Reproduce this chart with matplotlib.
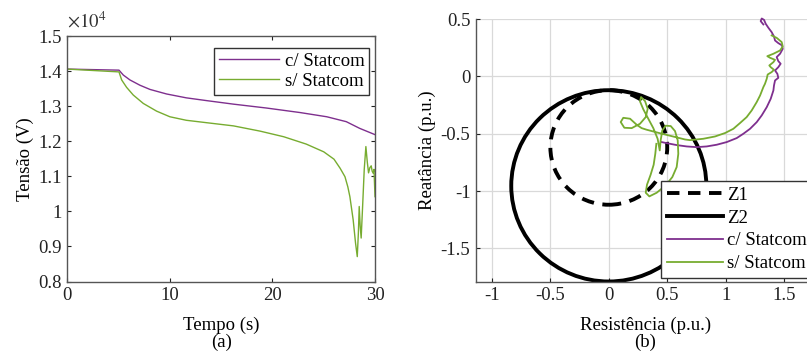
import numpy as np
import matplotlib
matplotlib.use("Agg")
import matplotlib.pyplot as plt
from matplotlib.patches import Circle
from matplotlib.lines import Line2D
from matplotlib.ticker import FuncFormatter

plt.rcParams["font.family"] = ["Liberation Serif", "DejaVu Serif"]
plt.rcParams["mathtext.fontset"] = "stix"

PURPLE = "#7E2F8E"
GREEN  = "#77AC30"

# ---- (a) voltage vs time ----
t_com = [0, 0, 0, 0, 5.04, 5.46, 6.11, 7.08, 8.06, 9.68, 11.6, 13.6, 16.2,
         19.4, 22.7, 25.3, 27.2, 28.5, 30]
v_com = [14060, 13890, 14130, 14060, 14030, 13890, 13750, 13600, 13480,
         13350, 13240, 13160, 13060, 12950, 12820, 12700, 12560, 12370, 12190]

t_sem = [0, 5.04, 5.3, 5.78, 6.43, 7.41, 8.71, 10.0, 11.6, 13.6, 16.2, 18.8,
         21.1, 23.3, 25.0, 26.0, 26.6, 27.07, 27.35, 27.55, 27.87, 28.1, 28.27,
         28.38, 28.46, 28.55, 28.65, 28.8, 28.95, 29.11, 29.25, 29.37, 29.5,
         29.63, 29.72, 29.82, 29.9, 30.0]
v_sem = [14060, 13980, 13750, 13540, 13320, 13080, 12860, 12700, 12600,
         12530, 12440, 12290, 12130, 11920, 11700, 11490, 11230, 10990, 10700,
         10420, 9760, 9100, 8710, 9400, 10140, 9600, 9240, 10200, 11200,
         11850, 11400, 11100, 11250, 11300, 11150, 11090, 11200, 10420]

# ---- (b) impedance plane ----
z1_center = (0.0, -0.62)
z1_radius = 0.50
z2_center = (0.0, -0.955)
z2_radius = 0.835

r_com = [1.323, 1.300, 1.309, 1.329, 1.343, 1.366, 1.394, 1.414, 1.423,
         1.451, 1.483, 1.489, 1.466, 1.437, 1.451, 1.471, 1.451, 1.423, 1.443,
         1.451, 1.423, 1.414, 1.409, 1.386, 1.352, 1.309, 1.266, 1.209, 1.152,
         1.095, 1.009, 0.924, 0.838, 0.752, 0.667, 0.581, 0.495, 0.453]
x_com = [0.454, 0.483, 0.506, 0.494, 0.460, 0.425, 0.387, 0.349, 0.314,
         0.291, 0.271, 0.241, 0.198, 0.169, 0.134, 0.111, 0.081, 0.052, 0.023,
         -0.012, -0.035, -0.079, -0.122, -0.195, -0.268, -0.340, -0.399,
         -0.457, -0.500, -0.538, -0.573, -0.596, -0.611, -0.617, -0.611,
         -0.599, -0.582, -0.573]

r_sem = [1.394, 1.437, 1.480, 1.489, 1.466, 1.409, 1.357, 1.380, 1.423,
         1.409, 1.374, 1.386, 1.414, 1.394, 1.360, 1.352, 1.337, 1.323, 1.295,
         1.266, 1.223, 1.180, 1.123, 1.066, 0.995, 0.909, 0.809, 0.695,
         0.652, 0.538, 0.424, 0.324, 0.281, 0.239, 0.182, 0.124, 0.102, 0.133,
         0.196, 0.267, 0.316, 0.333, 0.310, 0.276, 0.267, 0.296, 0.338, 0.381,
         0.418, 0.436, 0.444, 0.458, 0.487, 0.530, 0.567, 0.590, 0.595, 0.581,
         0.544, 0.487, 0.410, 0.347, 0.316, 0.327, 0.358, 0.384, 0.398, 0.407]
x_sem = [0.358, 0.337, 0.300, 0.262, 0.227, 0.198, 0.177, 0.163, 0.145,
         0.125, 0.096, 0.081, 0.058, 0.038, 0.017, -0.020, -0.064, -0.093,
         -0.166, -0.224, -0.297, -0.355, -0.407, -0.457, -0.494, -0.524,
         -0.544, -0.556,
         -0.550, -0.521, -0.492, -0.465, -0.451, -0.422, -0.369, -0.361,
         -0.398, -0.448, -0.451, -0.413, -0.355, -0.282, -0.215, -0.180,
         -0.218, -0.288, -0.369, -0.451, -0.544, -0.646, -0.558, -0.471,
         -0.430, -0.433, -0.477, -0.558, -0.675, -0.791, -0.878, -0.951,
         -1.015, -1.047, -1.015, -0.945, -0.858, -0.771, -0.675, -0.588]

fig = plt.figure(figsize=(8.07, 3.51), dpi=100)

SPINE = "#555555"
FS = 13.5

# Panel (a)
ax1 = fig.add_axes([0.0834, 0.198, 0.3813, 0.699])
ax1.plot(t_com, v_com, color=PURPLE, lw=1.0, label="c/ Statcom")
ax1.plot(t_sem, v_sem, color=GREEN, lw=1.0, label="s/ Statcom")
ax1.set_xlim(0, 30)
ax1.set_ylim(8000, 15000)
ax1.set_xticks([0, 10, 20, 30])
ax1.set_yticks(np.arange(8000, 15001, 1000))
ax1.yaxis.set_major_formatter(FuncFormatter(lambda v, p: f"{v/1e4:g}"))
ax1.text(0.0, 1.02, r"$\times10^4$", transform=ax1.transAxes, fontsize=FS,
         ha="left", va="bottom", color="#333333")
ax1.set_xlabel("Tempo (s)\n(a)", fontsize=FS, labelpad=9, linespacing=1.0)
ax1.set_ylabel("Tensão (V)", fontsize=FS, labelpad=3)
leg1 = ax1.legend(loc="upper right", bbox_to_anchor=(0.9805, 0.951),
                  fontsize=FS, handlelength=3.2, fancybox=False, framealpha=1,
                  edgecolor="#333333", borderaxespad=0, borderpad=0.25,
                  labelspacing=0.15, handletextpad=0.3)
leg1.get_frame().set_linewidth(1.0)

# Panel (b)
ax2 = fig.add_axes([0.5898, 0.198, 0.4201, 0.749])
ax2.add_patch(Circle(z2_center, z2_radius, fill=False, color="black", lw=2.8))
ax2.add_patch(Circle(z1_center, z1_radius, fill=False, color="black", lw=2.8,
                     linestyle=(0, (3.2, 2.2))))
ax2.plot(r_com, x_com, color=PURPLE, lw=1.3, clip_on=False)
ax2.plot(r_sem, x_sem, color=GREEN, lw=1.3)
ax2.set_xlim(-1.137, 1.765)
ax2.set_ylim(-1.79, 0.505)
ax2.set_xticks([-1, -0.5, 0, 0.5, 1, 1.5])
ax2.set_yticks([-1.5, -1, -0.5, 0, 0.5])
fmt = FuncFormatter(lambda v, p: f"{v:g}")
ax2.xaxis.set_major_formatter(fmt)
ax2.yaxis.set_major_formatter(fmt)
ax2.grid(True, color="#d9d9d9", lw=0.9)
ax2.set_axisbelow(True)
ax2.spines["top"].set_visible(False)
ax2.spines["right"].set_visible(False)
ax2.set_xlabel("Resistência (p.u.)\n(b)", fontsize=FS, labelpad=9, linespacing=1.0)
ax2.set_ylabel("Reatância (p.u.)", fontsize=FS, labelpad=3)
handles = [
    Line2D([], [], color="black", lw=2.8, linestyle=(0, (3.2, 2.2))),
    Line2D([], [], color="black", lw=2.8),
    Line2D([], [], color=PURPLE, lw=1.3),
    Line2D([], [], color=GREEN, lw=1.3),
]
leg2 = ax2.legend(handles, ["Z1", "Z2", "c/ Statcom", "s/ Statcom"],
                  loc="lower right", bbox_to_anchor=(0.991, 0.014),
                  fontsize=FS, handlelength=3.0, fancybox=False, framealpha=1,
                  edgecolor="#333333", borderaxespad=0, borderpad=0.3,
                  labelspacing=0.3, handletextpad=0.2)
leg2.get_frame().set_linewidth(1.0)

for ax in (ax1, ax2):
    ax.tick_params(direction="in", length=3, width=0.8, labelsize=FS,
                   colors="#222222", pad=4)
    for s in ax.spines.values():
        s.set_color(SPINE)
        s.set_linewidth(1.0)
ax1.tick_params(top=True, right=True)

fig.savefig("out.png", dpi=100)
